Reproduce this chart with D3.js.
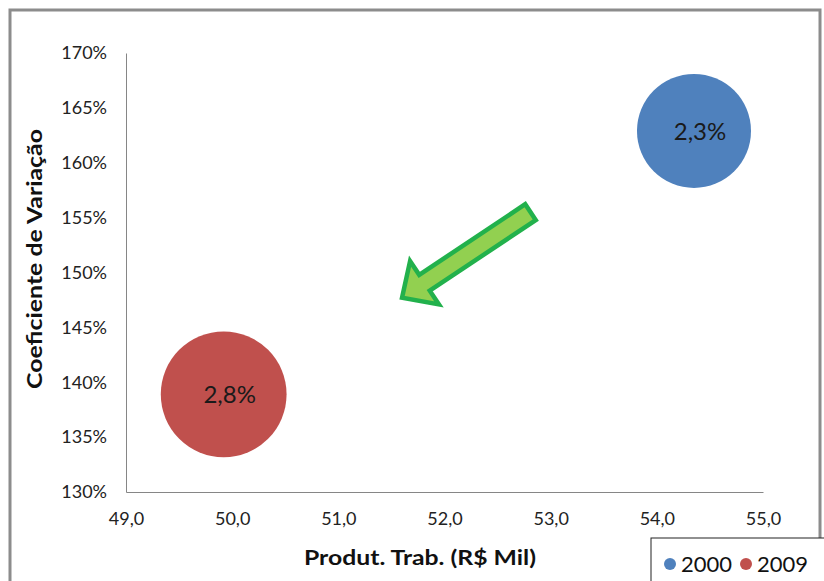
<!DOCTYPE html>
<html>
<head>
<meta charset="utf-8">
<script src="https://cdn.jsdelivr.net/npm/d3@7"></script>
<style>
  body { margin: 0; background: #fff; }
  text { font-family: Lato, "Noto Sans", sans-serif; }
</style>
</head>
<body>
<svg width="824" height="581"></svg>
<script>
// dados
const anos = ["2000", "2009"]
const produtividade = [54.35, 49.92]      // R$ Mil
const coefVariacao = [1.629, 1.389]       // 162,9% / 138,9%
const crescimento = [2.3, 2.8]            // tamanho da bolha (%)
const cores = ["#4f81bd", "#c0504d"]

const xTicks = [49, 50, 51, 52, 53, 54, 55]
const yTicks = [1.30, 1.35, 1.40, 1.45, 1.50, 1.55, 1.60, 1.65, 1.70]

// seta (cauda -> ponta), em coordenadas do grafico
const setaInicio = [52.81, 1.555]
const setaFim = [51.60, 1.477]

const svg = d3.select("svg")

// moldura
svg.append("rect")
    .attr("x", 10).attr("y", 10)
    .attr("width", 810).attr("height", 600)
    .attr("fill", "white")
    .attr("stroke", "#8c8c8c")
    .attr("stroke-width", 3)

const x = d3.scaleLinear().domain([49, 55]).range([126, 763])
const y = d3.scaleLinear().domain([1.30, 1.70]).range([492, 53])
const r = d3.scaleSqrt().domain([0, 2.3]).range([0, 57])

const fmtX = d => d.toFixed(1).replace(".", ",")
const fmtY = d => Math.round(d * 100) + "%"

// eixo x
const gx = svg.append("g").attr("transform", "translate(0,492)")
    .call(d3.axisBottom(x).tickValues(xTicks).tickFormat(fmtX).tickSize(0).tickPadding(20))
gx.select(".domain").attr("stroke", "#868686")
gx.selectAll("text").attr("font-size", 18).attr("fill", "#222").attr("font-family", "Lato, sans-serif")

// eixo y
const gy = svg.append("g").attr("transform", "translate(126,0)")
    .call(d3.axisLeft(y).tickValues(yTicks).tickFormat(fmtY).tickSize(0).tickPadding(19))
gy.select(".domain").attr("stroke", "#868686")
gy.selectAll("text").attr("font-size", 18).attr("fill", "#222").attr("font-family", "Lato, sans-serif")

// bolhas
const dados = anos.map((a, i) => ({ ano: a, x: produtividade[i], y: coefVariacao[i], v: crescimento[i], cor: cores[i] }))

svg.selectAll("circle.bolha")
    .data(dados)
    .enter()
    .append("circle")
    .attr("class", "bolha")
    .attr("cx", d => x(d.x))
    .attr("cy", d => y(d.y))
    .attr("r", d => r(d.v))
    .attr("fill", d => d.cor)

svg.selectAll("text.rotulo")
    .data(dados)
    .enter()
    .append("text")
    .attr("class", "rotulo")
    .attr("x", d => x(d.x) + 6)
    .attr("y", d => y(d.y) + 9)
    .attr("text-anchor", "middle")
    .attr("font-size", 24)
    .attr("fill", "#1a1a1a")
    .text(d => d.v.toFixed(1).replace(".", ",") + "%")

// seta verde
function desenhaSeta(p0, p1) {
    let ax = x(p0[0]), ay = y(p0[1]), bx = x(p1[0]), by = y(p1[1])
    let len = Math.hypot(bx - ax, by - ay)
    let ux = (bx - ax) / len, uy = (by - ay) / len
    let nx = -uy, ny = ux
    let hw = 9.5, hh = 26, hl = 27
    let pts = [
        [ax + nx * hw, ay + ny * hw],
        [bx - ux * hl + nx * hw, by - uy * hl + ny * hw],
        [bx - ux * hl + nx * hh, by - uy * hl + ny * hh],
        [bx, by],
        [bx - ux * hl - nx * hh, by - uy * hl - ny * hh],
        [bx - ux * hl - nx * hw, by - uy * hl - ny * hw],
        [ax - nx * hw, ay - ny * hw]
    ]
    svg.append("path")
        .attr("d", "M" + pts.map(p => p.join(" ")).join(" L") + " Z")
        .attr("fill", "#92d050")
        .attr("stroke", "#22b14c")
        .attr("stroke-width", 4.5)
        .attr("stroke-linejoin", "miter")
}
desenhaSeta(setaInicio, setaFim)

// titulos dos eixos
svg.append("text")
    .attr("x", 420).attr("y", 565)
    .attr("text-anchor", "middle")
    .attr("font-size", 20).attr("font-weight", "bold").attr("fill", "#111")
    .attr("textLength", 232).attr("lengthAdjust", "spacingAndGlyphs")
    .text("Produt. Trab. (R$ Mil)")

svg.append("text")
    .attr("transform", "translate(42,259) rotate(-90)")
    .attr("text-anchor", "middle")
    .attr("font-size", 20).attr("font-weight", "bold").attr("fill", "#111")
    .attr("textLength", 260).attr("lengthAdjust", "spacingAndGlyphs")
    .text("Coeficiente de Variação")

// legenda
const leg = svg.append("g")
leg.append("rect")
    .attr("x", 651).attr("y", 538)
    .attr("width", 200).attr("height", 60)
    .attr("fill", "white").attr("stroke", "#222").attr("stroke-width", 1)

const itens = leg.selectAll("g.item")
    .data(dados)
    .enter()
    .append("g")
    .attr("class", "item")
    .attr("transform", (d, i) => `translate(${670 + i * 76},564)`)
itens.append("circle").attr("r", 6).attr("fill", d => d.cor)
itens.append("text")
    .attr("x", 11).attr("y", 8)
    .attr("font-size", 22).attr("fill", "#111")
    .text(d => d.ano)
</script>
</body>
</html>
